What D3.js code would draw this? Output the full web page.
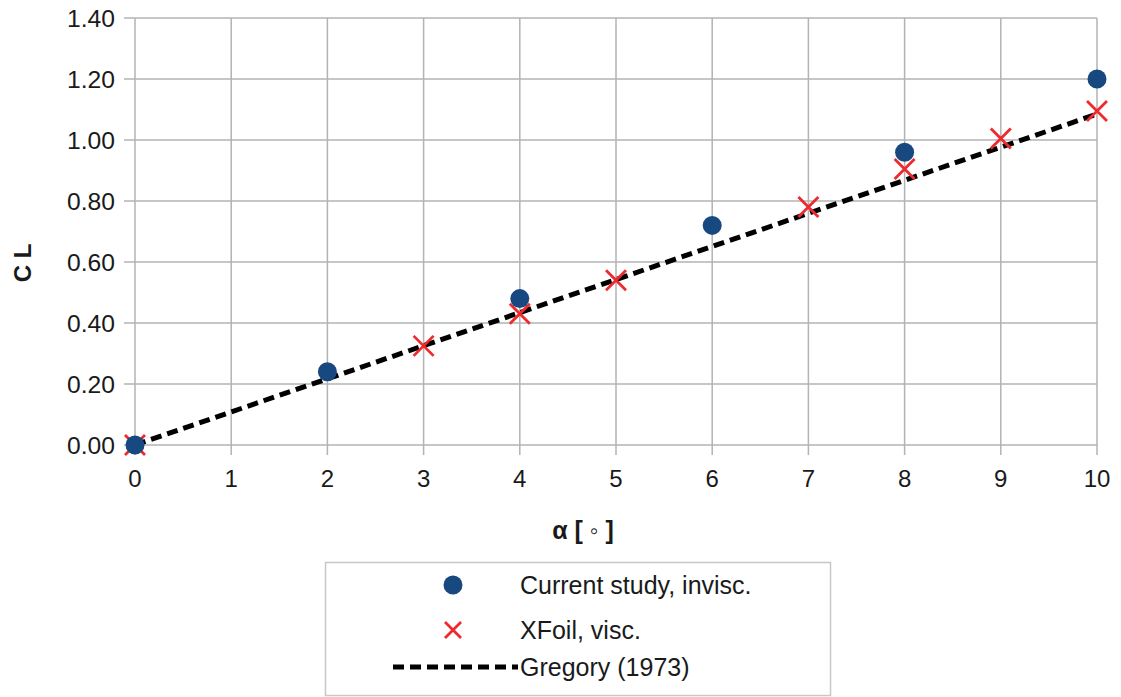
<!DOCTYPE html>
<html><head><meta charset="utf-8">
<script src="https://cdn.jsdelivr.net/npm/d3@7"></script>
<style>body{margin:0;background:#fff;} svg{display:block;font-family:"Liberation Sans",Arial,sans-serif;}</style>
</head><body><svg id="c" width="1121" height="697"></svg>
<script>
const studyAlpha = [0, 2, 4, 6, 8, 10];
const studyCL    = [0.00, 0.24, 0.48, 0.72, 0.96, 1.20];
const xfoilAlpha = [0, 3, 4, 5, 7, 8, 9, 10];
const xfoilCL    = [0.00, 0.325, 0.43, 0.54, 0.78, 0.905, 1.005, 1.095];
const gregAlpha  = [0, 10];
const gregCL     = [0.00, 1.085];
const xTicks = [0,1,2,3,4,5,6,7,8,9,10];
const yTicks = [0,0.2,0.4,0.6,0.8,1.0,1.2,1.4];
const seriesNames = ["Current study, invisc.", "XFoil, visc.", "Gregory (1973)"];

const svg = d3.select("#c");
const x = d3.scaleLinear().domain([0,10]).range([135,1097]);
const y = d3.scaleLinear().domain([0,1.4]).range([445,18]);
const grid = "#b3b3b3";
const txt = "#1a1a1a";

// grid
svg.append("g").selectAll("line").data(yTicks).join("line")
  .attr("x1", 124).attr("x2", x(10)).attr("y1", d=>y(d)).attr("y2", d=>y(d))
  .attr("stroke", grid).attr("stroke-width", 1.5);
svg.append("g").selectAll("line").data(xTicks).join("line")
  .attr("x1", d=>x(d)).attr("x2", d=>x(d)).attr("y1", y(1.4)).attr("y2", 455)
  .attr("stroke", grid).attr("stroke-width", 1.5);

// tick labels
svg.append("g").selectAll("text").data(yTicks).join("text")
  .attr("x", 115).attr("y", d=>y(d)).attr("dy","0.36em").attr("text-anchor","end")
  .attr("font-size", 24).attr("textLength", 48).attr("lengthAdjust","spacingAndGlyphs")
  .attr("fill",txt).text(d=>d3.format(".2f")(d));
svg.append("g").selectAll("text").data(xTicks).join("text")
  .attr("x", d=>x(d)).attr("y", 478).attr("dy","0.36em").attr("text-anchor","middle")
  .attr("font-size", 24).attr("fill",txt).text(d=>d);

// axis titles
svg.append("text").attr("transform","translate(31,263) rotate(-90)")
  .attr("text-anchor","middle").attr("font-size",24).attr("font-weight","bold").attr("fill",txt).text("C L");
svg.append("text").attr("x",583).attr("y",530).attr("dy","0.36em")
  .attr("text-anchor","middle").attr("font-size",25).attr("font-weight","bold").attr("fill",txt).text("α [ ◦ ]");

// Gregory line
const line = d3.line().x(d=>x(d[0])).y(d=>y(d[1]));
svg.append("path").datum(gregAlpha.map((a,i)=>[a,gregCL[i]]))
  .attr("d", line).attr("fill","none").attr("stroke","#000").attr("stroke-width",5)
  .attr("stroke-dasharray","11,6");

// XFoil crosses
const blue = "#17487f", red = "#ee2a2f";
const cross = (g, s) => g.append("path").attr("d",`M${-s},${-s}L${s},${s}M${-s},${s}L${s},${-s}`)
  .attr("stroke", red).attr("stroke-width", 2.8).attr("fill","none");
xfoilAlpha.forEach((a,i)=>{
  const g = svg.append("g").attr("transform",`translate(${x(a)},${y(xfoilCL[i])})`);
  cross(g, 10);
});
svg.append("g").selectAll("circle").data(studyAlpha).join("circle")
  .attr("cx", d=>x(d)).attr("cy", (d,i)=>y(studyCL[i])).attr("r", 9.5).attr("fill", blue);

// legend
const lg = svg.append("g");
lg.append("rect").attr("x",325.5).attr("y",562.5).attr("width",505).attr("height",133)
  .attr("fill","#fff").attr("stroke","#c8c8c8").attr("stroke-width",1.5);
const ly = [585, 630, 667];
lg.append("circle").attr("cx",453).attr("cy",ly[0]).attr("r",9.5).attr("fill",blue);
cross(lg.append("g").attr("transform",`translate(453,${ly[1]})`), 8);
lg.append("line").attr("x1",393).attr("x2",518).attr("y1",ly[2]).attr("y2",ly[2])
  .attr("stroke","#000").attr("stroke-width",5).attr("stroke-dasharray","11,6");
lg.selectAll("text.l").data(seriesNames).join("text").attr("class","l")
  .attr("x",520).attr("y",(d,i)=>ly[i]).attr("dy","0.36em")
  .attr("font-size",25).attr("fill",txt).text(d=>d);
</script></body></html>
